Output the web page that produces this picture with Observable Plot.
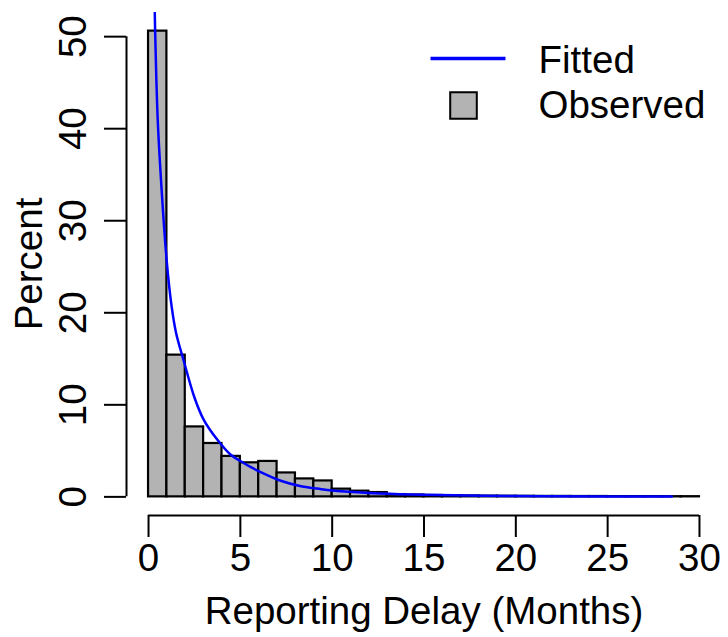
<!DOCTYPE html>
<html>
<head>
<meta charset="utf-8">
<script src="https://cdn.jsdelivr.net/npm/d3@7"></script>
<script src="https://cdn.jsdelivr.net/npm/@observablehq/plot@0.6"></script>
<style>
  html, body { margin: 0; padding: 0; background: #fff; }
</style>
</head>
<body>
<div id="chart"></div>
<script>
// Histogram of reporting delays (percent of reports per one-month bin)
const binStarts = d3.range(0, 30);
const observedPct = [
  50.6, 15.4, 7.6, 5.8, 4.4, 3.7, 3.85, 2.6, 1.95, 1.73,
  0.84, 0.62, 0.47, 0.25, 0.2, 0.15, 0.12, 0.1, 0.08, 0.07,
  0.06, 0.05, 0.05, 0.04, 0.04, 0.03, 0.03, 0.03, 0.02, 0.02
];

// Fitted delay density, sampled along the curve
const fitX = [0.34, 0.36, 0.5, 0.75, 1.0, 1.25, 1.5, 1.9, 2.5, 3.0, 3.75, 4.46, 5.0, 5.6, 6.1, 7.2, 8.3, 9.4, 10.5, 12.6, 15, 20, 25, 28.5];
const fitY = [52.6, 50.6, 41, 32.2, 25.4, 20.8, 17.8, 14.9, 10.8, 8.4, 6.2, 4.6, 3.9, 3.2, 2.7, 1.75, 1.15, 0.84, 0.6, 0.36, 0.22, 0.1, 0.05, 0.03];

const xTicks = [0, 5, 10, 15, 20, 25, 30];
const yTicks = [0, 10, 20, 30, 40, 50];
const legendLabels = ["Fitted", "Observed"];

const bars = binStarts.map((x0, i) => ({x0, x1: x0 + 1, pct: observedPct[i]}));
const fitted = fitX.map((x, i) => ({x, y: fitY[i]}));

// R-style 4% padding around the data range
const xSpan = xTicks[xTicks.length - 1] - xTicks[0];
const xDomain = [xTicks[0] - 0.04 * xSpan, xTicks[xTicks.length - 1] + 0.04 * xSpan];
const yMax = d3.max(observedPct);
const yDomain = [-0.04 * yMax, 1.04 * yMax];

const BLUE = "#0000ff";
const GRAY = "#b3b3b3";

// short horizontal stroke used as the legend key for the fitted line
const lineSymbol = {
  draw(context) {
    context.moveTo(-37.5, 0);
    context.lineTo(37.5, 0);
  }
};

const chart = Plot.plot({
  width: 728,
  height: 637,
  marginLeft: 126,
  marginRight: 7,
  marginTop: 12,
  marginBottom: 122,
  style: {fontFamily: "'Liberation Sans', Arial, sans-serif", fontSize: "38.5px", color: "#000", background: "#fff"},
  x: {domain: xDomain},
  y: {domain: yDomain},
  marks: [
    Plot.rectY(bars, {x1: "x0", x2: "x1", y: "pct", fill: GRAY, stroke: "#000", strokeWidth: 2.2}),
    Plot.line(fitted, {x: "x", y: "y", stroke: BLUE, strokeWidth: 2.5, curve: "catmull-rom", clip: true}),
    // axis lines spanning the first to last tick
    Plot.ruleY([yDomain[0]], {x1: xTicks[0], x2: xTicks[xTicks.length - 1], strokeWidth: 2}),
    Plot.ruleX([xDomain[0]], {y1: yTicks[0], y2: yTicks[yTicks.length - 1], strokeWidth: 2}),
    Plot.axisX(xTicks, {
      tickSize: 22, tickPadding: 6, strokeWidth: 2,
      label: "Reporting Delay (Months)", labelAnchor: "center", labelOffset: 108, labelArrow: "none"
    }),
    Plot.axisY(yTicks, {
      tickSize: 22, tickPadding: 19, tickRotate: -90, strokeWidth: 2,
      label: "Percent", labelAnchor: "center", labelOffset: 112, labelArrow: "none"
    }),
    // legend (top right, inside the plot region)
    Plot.dot([legendLabels[0]], {frameAnchor: "top-right", dx: -253.5, dy: 46, symbol: lineSymbol, stroke: BLUE, strokeWidth: 3.5}),
    Plot.dot([legendLabels[1]], {frameAnchor: "top-right", dx: -258, dy: 93, symbol: "square", r: 15, fill: GRAY, stroke: "#000", strokeWidth: 2}),
    Plot.text([legendLabels[0]], {
      frameAnchor: "top-right", text: d => d, textAnchor: "start", lineAnchor: "middle",
      dx: -183, dy: 48, fill: "#000"
    }),
    Plot.text([legendLabels[1]], {
      frameAnchor: "top-right", text: d => d, textAnchor: "start", lineAnchor: "middle",
      dx: -183, dy: 93, fill: "#000"
    })
  ]
});

document.getElementById("chart").appendChild(chart);
</script>
</body>
</html>
